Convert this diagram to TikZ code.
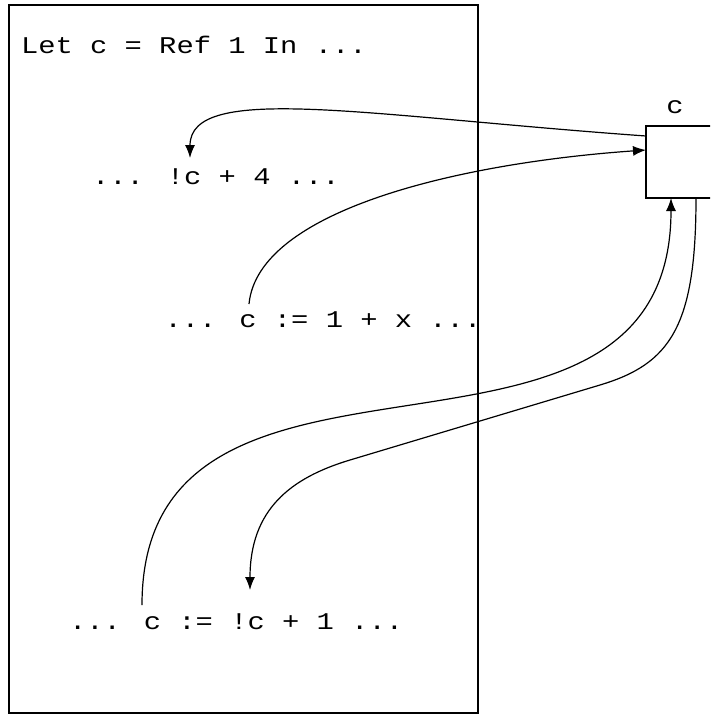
\documentclass[tikz,border=0pt]{standalone}
\usepackage{fontspec}
\usetikzlibrary{arrows.meta}
\newfontfamily\codefont[FakeStretch=1.2]{Liberation Mono}
\tikzset{
  code/.style={anchor=base west, inner sep=0pt, outer sep=0pt, font=\codefont\fontsize{24pt}{28pt}\selectfont},
  framebox/.style={draw, line width=1.6pt, inner sep=0pt, outer sep=0pt},
  cellbox/.style={draw, line width=1.5pt, inner sep=0pt, outer sep=0pt, minimum width=68pt, minimum height=72pt},
  link/.style={line width=1.2pt},
  arr/.style={link, -{Latex[length=13pt,width=10pt]}}
}
\begin{document}
\begin{tikzpicture}[x=1pt, y=-1pt]
\useasboundingbox (0,0) rectangle (710,715);
\clip (0,0) rectangle (710,715);
% frame
\node[framebox, minimum width=469pt, minimum height=708pt] (frame) at (243.5,359) {};
% texts
\node[code] (t0) at (21,53) {Let c = Ref 1 In ...};
\node[code] (t1) at (92,184) {... !c + 4 ...};
\node[code] (t2) at (164.5,327) {... c := 1 + x ...};
\node[code] (t3) at (69,629) {... c := !c + 1 ...};
% reference cell
\node[cellbox] (box) at (680,162) {};
\node[code, anchor=base] (lab) at (675,113) {c};
% free ends near texts
\coordinate (c1) at (190,158);
\coordinate (c2) at (249,304);
\coordinate (c3) at (142,605);
\coordinate (c4) at (250,590);
% connectors
\draw[arr] ([yshift=-10pt]box.north west) .. controls (366,116) and (190,82) .. (c1);
\draw[arr] (c2) .. controls (258,210) and (460,163) .. ([yshift=-24pt]box.north west);
\draw[arr] (c3) .. controls (142,290) and (671,520) .. ([xshift=25pt]box.south west);
\draw[arr] ([xshift=50pt]box.south west) .. controls (696,327) and (670,364) .. (600,385)
  -- (350,460) .. controls (290,478) and (250,510) .. (c4);
\end{tikzpicture}
\end{document}
